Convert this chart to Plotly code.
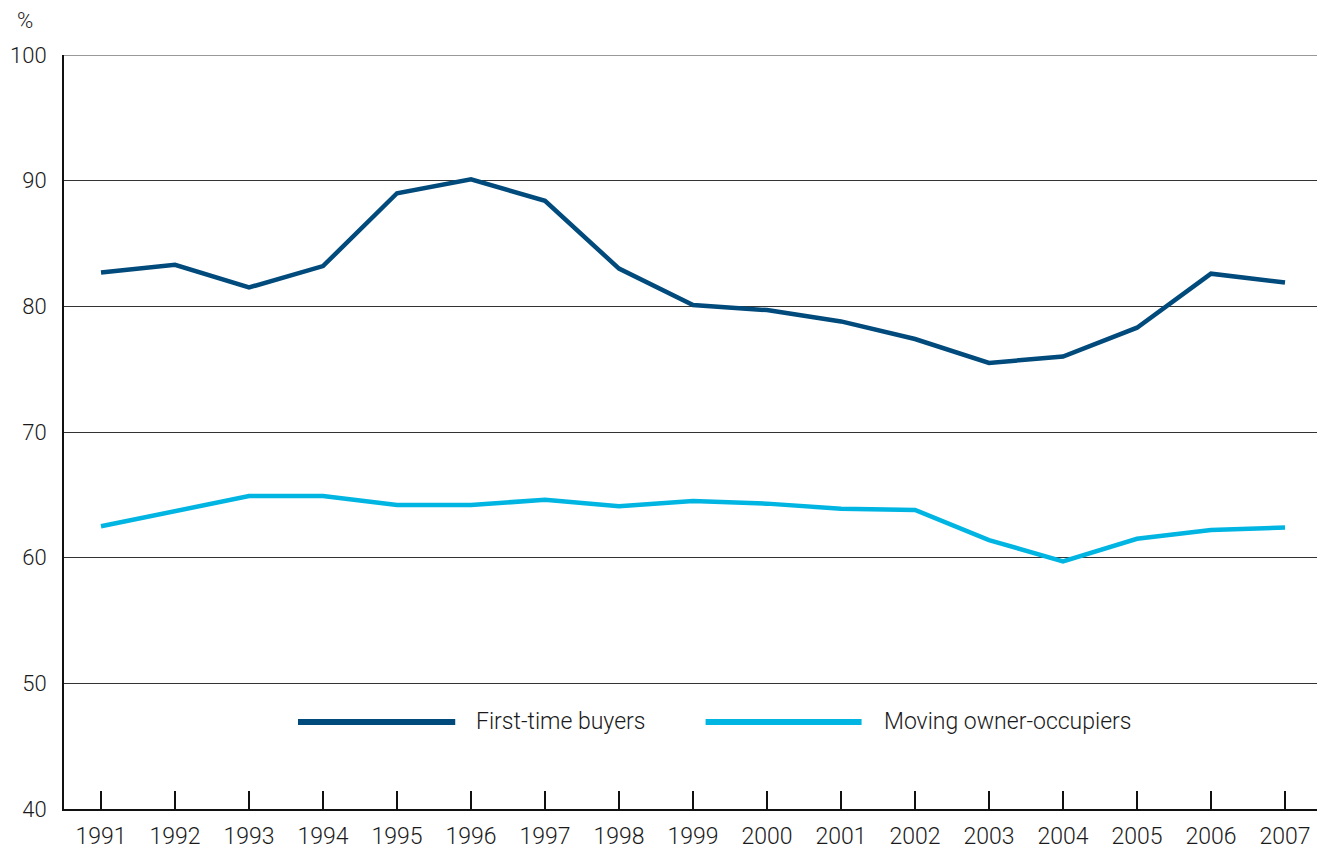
import plotly.graph_objects as go

years = list(range(1991, 2008))
first_time_buyers = [82.7, 83.3, 81.5, 83.2, 89.0, 90.1, 88.4, 83.0, 80.1, 79.7,
                     78.8, 77.4, 75.5, 76.0, 78.3, 82.6, 81.9]
moving_owner_occupiers = [62.5, 63.7, 64.9, 64.9, 64.2, 64.2, 64.6, 64.1, 64.5, 64.3,
                          63.9, 63.8, 61.4, 59.7, 61.5, 62.2, 62.4]
series_names = ["First-time buyers", "Moving owner-occupiers"]
colors = ["#004a7c", "#00b5e2"]
y_ticks = [40, 50, 60, 70, 80, 90, 100]

fig = go.Figure()
for name, vals, c in zip(series_names, [first_time_buyers, moving_owner_occupiers], colors):
    fig.add_trace(go.Scatter(x=years, y=vals, mode="lines", name=name,
                             line=dict(color=c, width=4.5), showlegend=False))

font = dict(family="Roboto, Liberation Sans, Arial, sans-serif", size=23, color="#1a1a1a",
            weight=300)
yfont = dict(font, size=22)

fig.update_layout(
    width=1317, height=844,
    margin=dict(l=56, r=3, t=47, b=43, autoexpand=False),
    paper_bgcolor="white", plot_bgcolor="white",
    font=font,
    xaxis=dict(range=[1990.5, 2007.5], tickvals=years, ticktext=[str(y) for y in years],
               ticks="inside", ticklen=18, tickwidth=2, tickcolor="#111111",
               showgrid=False, zeroline=False, showline=True, linecolor="#111111",
               linewidth=2, tickfont=font, ticklabelstandoff=5, automargin=False),
    yaxis=dict(range=[40, 100], tickvals=y_ticks, showgrid=True, gridcolor="#333333",
               gridwidth=1, zeroline=False, showline=True, linecolor="#111111",
               linewidth=2, ticks="", ticklabelstandoff=11, tickfont=yfont,
               automargin=False),
)

# top border line at 100 (gray)
fig.add_shape(type="line", xref="paper", yref="y", x0=0, x1=1, y0=100, y1=100,
              line=dict(color="#777777", width=1.5))

# Custom legend with long line samples
leg_y = 46.93
legend_items = [(0.186, 0.311, 0.326), (0.510, 0.634, 0.650)]
for (x0, x1, xt), name, c in zip(legend_items, series_names, colors):
    fig.add_shape(type="line", xref="paper", yref="y", x0=x0, x1=x1, y0=leg_y, y1=leg_y,
                  line=dict(color=c, width=6))
    fig.add_annotation(xref="paper", yref="y", x=xt, y=leg_y, text=name, showarrow=False,
                       xanchor="left", yanchor="middle", font=font)

fig.add_annotation(xref="paper", yref="paper", x=-0.031, y=1.046, text="%", showarrow=False,
                   xanchor="center", yanchor="middle", font=yfont)

fig.write_html("out.html")
